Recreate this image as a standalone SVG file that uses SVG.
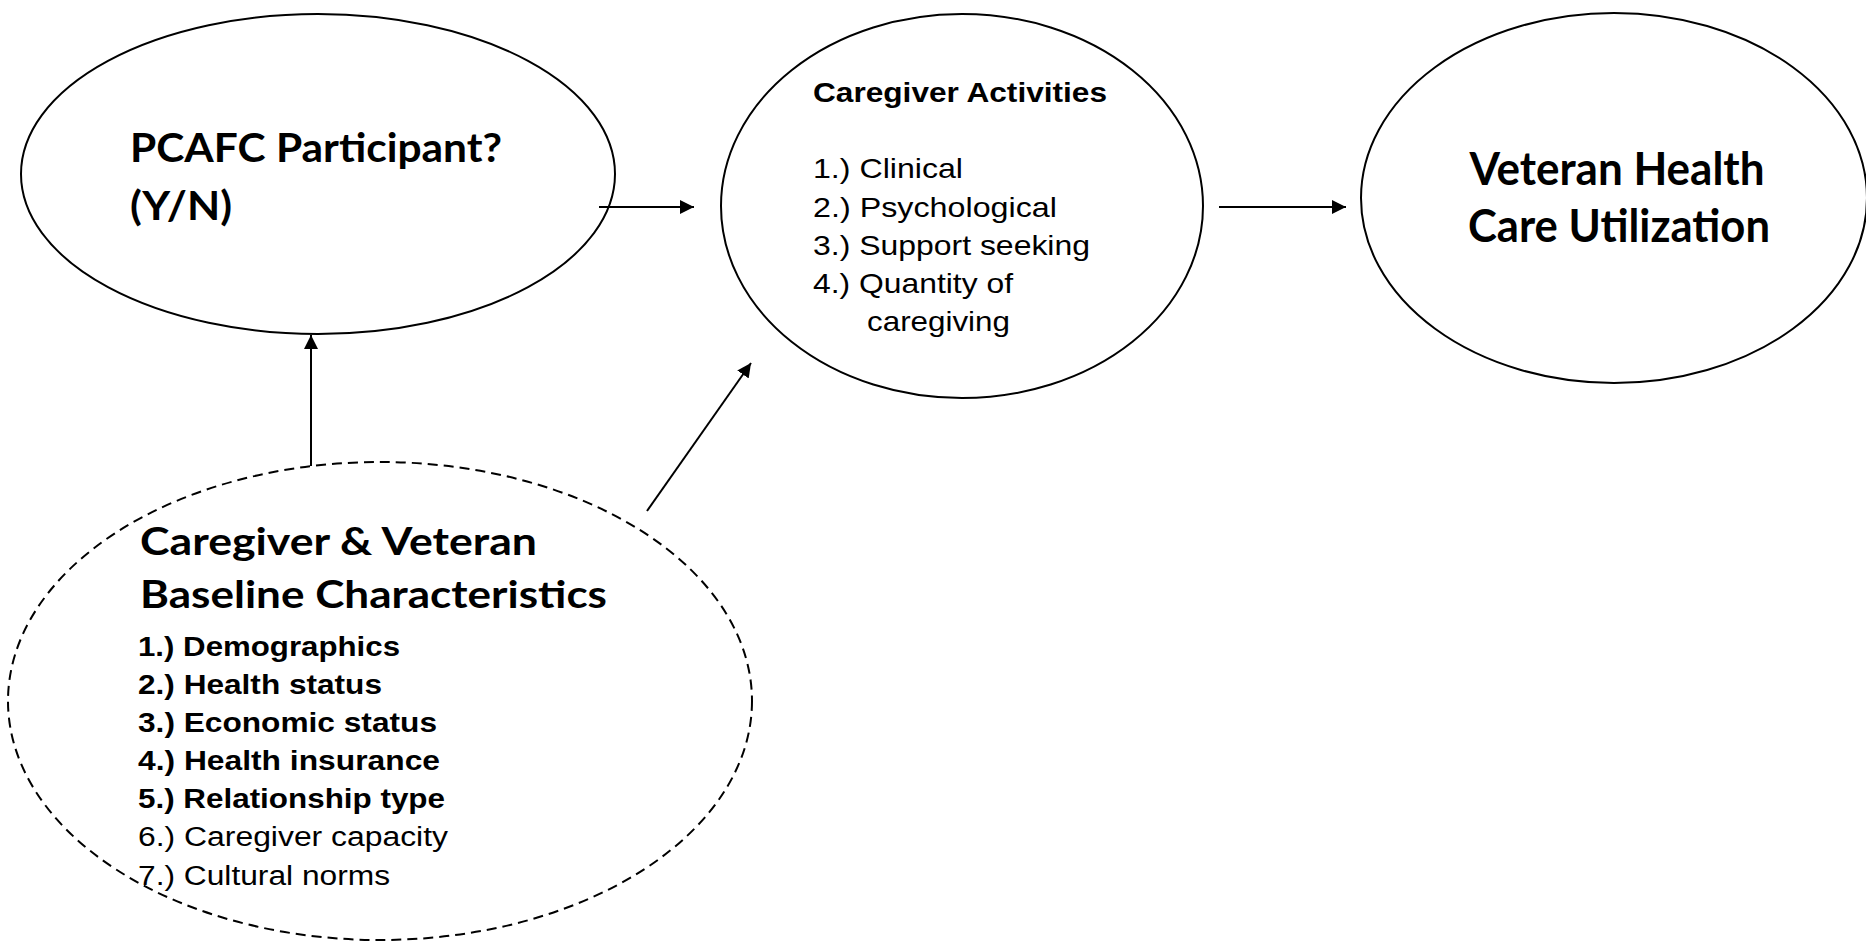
<svg xmlns="http://www.w3.org/2000/svg" width="1866" height="941" viewBox="0 0 1866 941">
<style>
.node{fill:#fff;stroke:#000;stroke-width:2}
.dash{fill:none;stroke:#000;stroke-width:2;stroke-dasharray:10 6}
.conn{stroke:#000;stroke-width:2;fill:none;marker-end:url(#arr)}
.cal{font-family:Lato,"Open Sans",sans-serif;font-weight:bold;fill:#000}
.ar{font-family:"Liberation Sans",Arial,sans-serif;fill:#000}
.arb{font-family:"Liberation Sans",Arial,sans-serif;font-weight:bold;fill:#000}
</style>
<defs>
<marker id="arr" viewBox="0 0 14 14" markerWidth="14" markerHeight="14" refX="14" refY="7" orient="auto" markerUnits="userSpaceOnUse">
<path d="M0,0 L14,7 L0,14 z" fill="#000"/>
</marker>
</defs>
<rect width="1866" height="941" fill="#fff"/>
<g id="pcafc">
<ellipse class="node" cx="318" cy="174" rx="297" ry="160"/>
<text class="cal" font-size="41" x="130" y="162" textLength="372" lengthAdjust="spacingAndGlyphs">PCAFC Participant?</text>
<text class="cal" font-size="41" x="130" y="220" textLength="102" lengthAdjust="spacingAndGlyphs">(Y/N)</text>
</g>
<g id="activities">
<ellipse class="node" cx="962" cy="206" rx="241" ry="192"/>
<text class="arb" font-size="27" x="813" y="102" textLength="294" lengthAdjust="spacingAndGlyphs">Caregiver Activities</text>
<text class="ar" font-size="28" x="813" y="178" textLength="150" lengthAdjust="spacingAndGlyphs">1.) Clinical</text>
<text class="ar" font-size="28" x="813" y="216.5" textLength="244" lengthAdjust="spacingAndGlyphs">2.) Psychological</text>
<text class="ar" font-size="28" x="813" y="255" textLength="277" lengthAdjust="spacingAndGlyphs">3.) Support seeking</text>
<text class="ar" font-size="28" x="813" y="293" textLength="200" lengthAdjust="spacingAndGlyphs">4.) Quantity of</text>
<text class="ar" font-size="28" x="867" y="331" textLength="143" lengthAdjust="spacingAndGlyphs">caregiving</text>
</g>
<g id="utilization">
<ellipse class="node" cx="1614" cy="198" rx="253" ry="185"/>
<text class="cal" font-size="45" x="1617" y="185" text-anchor="middle" textLength="295" lengthAdjust="spacingAndGlyphs">Veteran Health</text>
<text class="cal" font-size="45" x="1619" y="242" text-anchor="middle" textLength="302" lengthAdjust="spacingAndGlyphs">Care Utilization</text>
</g>
<g id="baseline">
<ellipse class="dash" cx="380" cy="701" rx="372" ry="239"/>
<text class="cal" font-size="38" x="140" y="555" textLength="397" lengthAdjust="spacingAndGlyphs">Caregiver &amp; Veteran</text>
<text class="cal" font-size="38" x="140" y="608" textLength="467" lengthAdjust="spacingAndGlyphs">Baseline Characteristics</text>
<text class="arb" font-size="27" x="138" y="656" textLength="262" lengthAdjust="spacingAndGlyphs">1.) Demographics</text>
<text class="arb" font-size="27" x="138" y="694" textLength="244" lengthAdjust="spacingAndGlyphs">2.) Health status</text>
<text class="arb" font-size="27" x="138" y="732" textLength="299" lengthAdjust="spacingAndGlyphs">3.) Economic status</text>
<text class="arb" font-size="27" x="138" y="770" textLength="302" lengthAdjust="spacingAndGlyphs">4.) Health insurance</text>
<text class="arb" font-size="27" x="138" y="808" textLength="307" lengthAdjust="spacingAndGlyphs">5.) Relationship type</text>
<text class="ar" font-size="27" x="138" y="846" textLength="310" lengthAdjust="spacingAndGlyphs">6.) Caregiver capacity</text>
<text class="ar" font-size="27" x="138" y="885" textLength="252" lengthAdjust="spacingAndGlyphs">7.) Cultural norms</text>
</g>
<g id="connectors">
<line class="conn" x1="599" y1="207" x2="694" y2="207"/>
<line class="conn" x1="1219" y1="207" x2="1346" y2="207"/>
<line class="conn" x1="311" y1="466" x2="311" y2="335"/>
<line class="conn" x1="647" y1="511" x2="751" y2="363"/>
</g>
</svg>
